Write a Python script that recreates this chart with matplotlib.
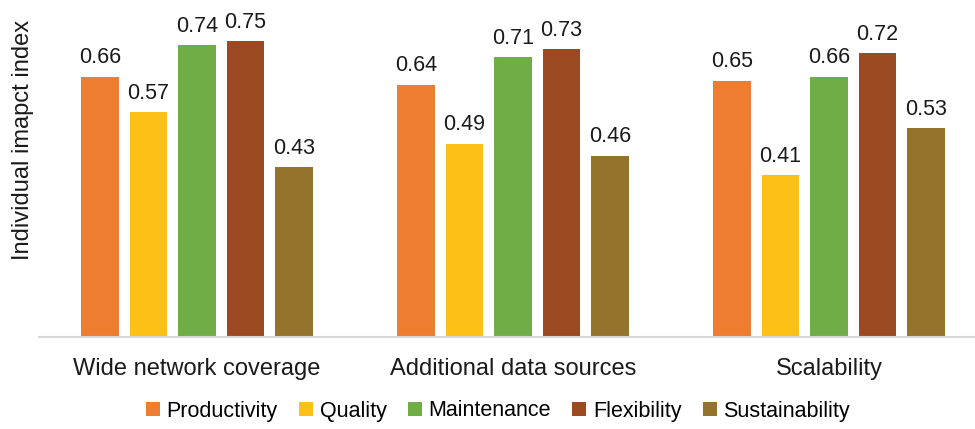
import matplotlib
matplotlib.use("Agg")
import matplotlib.pyplot as plt
import numpy as np
from matplotlib.patches import Patch

plt.rcParams["font.family"] = ["Liberation Sans", "DejaVu Sans"]

# ── data ────────────────────────────────────────────────────────────────────
categories = ["Wide network coverage", "Additional data sources", "Scalability"]
series = ["Productivity", "Quality", "Maintenance", "Flexibility", "Sustainability"]
productivity   = [0.66, 0.64, 0.65]
quality        = [0.57, 0.49, 0.41]
maintenance    = [0.74, 0.71, 0.66]
flexibility    = [0.75, 0.73, 0.72]
sustainability = [0.43, 0.46, 0.53]

values = [productivity, quality, maintenance, flexibility, sustainability]
colors = ["#ED7D31", "#FDC016", "#70AD47", "#9C4A22", "#94742D"]

fig = plt.figure(figsize=(9.75, 4.29), dpi=100)
# axis spans past the right edge like the original crop
ax = fig.add_axes([39 / 975, 92 / 429, 948 / 975, 332 / 429])

x = np.arange(len(categories))
pitch = 0.1535
width = 0.12
for i, (name, vals, col) in enumerate(zip(series, values, colors)):
    pos = x + (i - 2) * pitch
    bars = ax.bar(pos, vals, width, color=col, label=name, zorder=2)
    for b, v in zip(bars, vals):
        ax.annotate(f"{v:.2f}", (b.get_x() + b.get_width() / 2, v),
                    xytext=(0, 6), textcoords="offset points",
                    ha="center", va="bottom", fontsize=15.5, color="#1a1a1a")

ax.set_xlim(-0.5, 2.5)
ax.set_ylim(0, 0.842)
ax.set_xticks(x)
ax.set_xticklabels(categories, fontsize=17, color="#1a1a1a")
ax.tick_params(axis="x", length=0, pad=15)
ax.set_yticks([])
for s in ["top", "right", "left"]:
    ax.spines[s].set_visible(False)
ax.spines["bottom"].set_color("#D9D9D9")
ax.spines["bottom"].set_linewidth(1.5)

fig.text(23 / 975, 1 - 140 / 429, "Individual imapct index", rotation=90,
         ha="center", va="center", fontsize=17, color="#1a1a1a")

handles = [Patch(facecolor=c, label=n) for n, c in zip(series, colors)]
fig.legend(handles=handles, loc="center", bbox_to_anchor=(498 / 975, 1 - 411 / 429),
           ncol=5, frameon=False, fontsize=15.5, handlelength=0.65, handleheight=0.65,
           handletextpad=0.3, columnspacing=1.0, borderaxespad=0)

fig.savefig("out.png", dpi=100)
